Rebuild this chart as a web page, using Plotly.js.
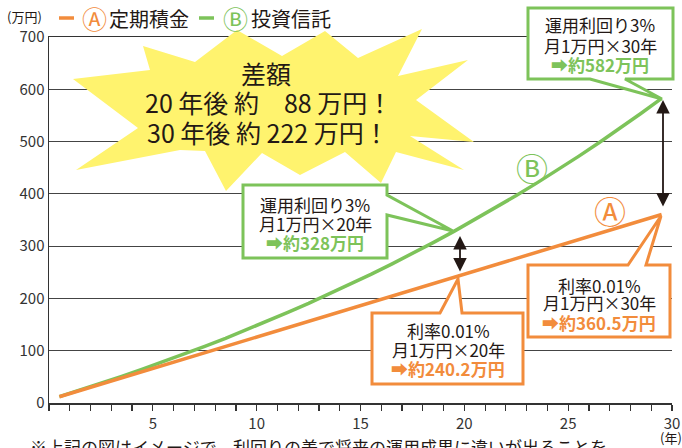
<!DOCTYPE html>
<html>
<head>
<meta charset="utf-8">
<script src="https://cdn.plot.ly/plotly-3.0.1.min.js"></script>
<style>html,body{margin:0;padding:0;background:#fff;}#chart{width:682px;height:448px;}</style>
</head>
<body>
<div id="chart"></div>
<script>
// ---- data ----
const years = [1,2,3,4,5,6,7,8,9,10,11,12,13,14,15,16,17,18,19,20,21,22,23,24,25,26,27,28,29,30];
// A: 定期積金 (利率0.01%, 月1万円)
const seriesA = [12.0,24.0,36.0,48.0,60.0,72.0,84.0,96.0,108.0,120.1,132.1,144.1,156.1,168.1,180.1,192.2,204.2,216.2,228.2,240.2,252.3,264.3,276.3,288.3,300.4,312.4,324.4,336.4,348.5,360.5];
// B: 投資信託 (運用利回り3%, 月1万円)
const seriesB = [12.2,24.7,37.6,50.9,64.6,78.8,93.3,108.4,123.8,139.7,156.2,173.1,190.5,208.5,227.0,246.0,265.7,285.9,306.8,328.3,350.5,373.3,396.8,421.0,446.0,471.7,498.3,525.6,553.7,582.7];
const xTickVals = [0,5,10,15,20,25,30];
const xTickText = ['', '5', '10', '15', '20', '25', '30'];
const yTickVals = [0,100,200,300,400,500,600,700];

const nameA = '定期積金';
const nameB = '投資信託';
const burstLines = ['差額', '20 年後 約　88 万円！', '30 年後 約 222 万円！'];
const calloutB30 = ['運用利回り3%', '月1万円×30年', '➡約582万円'];
const calloutB20 = ['運用利回り3%', '月1万円×20年', '➡約328万円'];
const calloutA20 = ['利率0.01%', '月1万円×20年', '➡約240.2万円'];
const calloutA30 = ['利率0.01%', '月1万円×30年', '➡約360.5万円'];
const footnote = '※上記の図はイメージで、利回りの差で将来の運用成果に違いが出ることを';

// ---- styling ----
const ORANGE = '#F28C3C';
const GREEN = '#7DC35A';
const YELLOW = '#FFF36E';
const TXT = '#231815';
const FONT = '"Noto Sans CJK JP", "Noto Sans", sans-serif';

const PL = 49, PR = 672, PT = 37, PB = 403;
function fx(px){ return (px - PL) / (PR - PL); }
function fy(py){ return (PB - py) / (PB - PT); }
function pathFrom(pts){ return 'M' + pts.map(p => fx(p[0]).toFixed(5) + ',' + fy(p[1]).toFixed(5)).join('L') + 'Z'; }

const annotations = [];
const shapes = [];
function txt(px, py, text, size, color, opts){
  opts = opts || {};
  annotations.push({
    xref:'paper', yref:'paper', x: fx(px), y: fy(py), text: text, showarrow:false,
    xanchor: opts.xanchor || 'center', yanchor: opts.yanchor || 'middle',
    font:{family: FONT, size: size, color: color}
  });
}

// starburst
const burst = [[143,46],[195,62],[237,30],[282,56],[325,31],[358,58],[422,29],[398,76],[468,60],[416,100],[474,142],[410,136],[464,170],[396,152],[381,183],[345,152],[300,175],[262,153],[226,191],[205,151],[180,150],[76,170],[138,128],[73,79],[150,70]];
shapes.push({type:'path', xref:'paper', yref:'paper', path: pathFrom(burst), fillcolor: YELLOW, line:{width:0}, layer:'above'});
txt(266, 73, burstLines[0], 25, TXT);
txt(268, 102, burstLines[1], 25, TXT);
txt(268, 132, burstLines[2], 25, TXT);

// callout boxes
function callout(pts, color, lines, cx, ys){
  shapes.push({type:'path', xref:'paper', yref:'paper', path: pathFrom(pts), fillcolor:'#ffffff', line:{color: color, width:3}, layer:'above'});
  txt(cx, ys[0], lines[0], 17, TXT);
  txt(cx, ys[1], lines[1], 17, TXT);
  txt(cx, ys[2], '<b>' + lines[2] + '</b>', 17, color);
}
callout([[528,8],[673,8],[673,79],[625,79],[662,99],[590,79],[528,79]], GREEN, calloutB30, 600, [25,45,65]);
callout([[243,185],[387,185],[387,195],[453,231],[387,215],[387,258],[243,258]], GREEN, calloutB20, 315, [205,223,242]);
callout([[372,313],[440,313],[458,279],[462,313],[523,313],[523,384],[372,384]], ORANGE, calloutA20, 448, [330,349,368]);
callout([[528,265],[628,265],[661,216],[646,265],[670,265],[670,337],[528,337]], ORANGE, calloutA30, 599, [285,303,322]);

// double arrows
function dblArrow(px, y1, y2){
  annotations.push({xref:'paper', yref:'paper', x: fx(px), y: fy(y1), ax: 0, ay: (y2 - y1), axref:'pixel', ayref:'pixel',
    text:'', showarrow:true, arrowside:'end+start', arrowhead:2, arrowsize:1.5, arrowwidth:1.8, arrowcolor:'#231815'});
}
dblArrow(460, 236, 273);
dblArrow(663, 100, 208);

// line labels
txt(532, 167, 'Ⓑ', 32, GREEN);
txt(610, 210, 'Ⓐ', 32, ORANGE);

// legend
shapes.push({type:'line', xref:'paper', yref:'paper', x0: fx(59), x1: fx(74), y0: fy(18), y1: fy(18), line:{color: ORANGE, width:3.5}});
txt(94, 18, 'Ⓐ', 25, ORANGE);
txt(107, 18, nameA, 20, TXT, {xanchor:'left'});
shapes.push({type:'line', xref:'paper', yref:'paper', x0: fx(199), x1: fx(214), y0: fy(18), y1: fy(18), line:{color: GREEN, width:3.5}});
txt(235, 18, 'Ⓑ', 25, GREEN);
txt(249, 18, nameB, 20, TXT, {xanchor:'left'});
txt(24, 16, '(万円)', 13, TXT);
txt(671, 437, '(年)', 13, TXT);
txt(28, 447, footnote, 17, TXT, {xanchor:'left'});

const traces = [
  {x: years.map(v => v - 0.5), y: seriesB, name: nameB, type:'scatter', mode:'lines', line:{color: GREEN, width:3.5}, hoverinfo:'skip'},
  {x: years.map(v => v - 0.5), y: seriesA, name: nameA, type:'scatter', mode:'lines', line:{color: ORANGE, width:3.5}, hoverinfo:'skip'}
];

const layout = {
  width: 682, height: 448,
  margin: {l: PL, r: 682 - PR, t: PT, b: 448 - PB, pad: 0},
  paper_bgcolor:'#ffffff', plot_bgcolor:'#ffffff',
  showlegend:false,
  font:{family: FONT, color: TXT},
  xaxis:{
    range:[0,30], tickmode:'array', tickvals: xTickVals, ticktext: xTickText,
    ticks:'outside', ticklen:6, tickwidth:1.2, tickcolor:'#333',
    minor:{tickmode:'linear', tick0:0, dtick:1, ticks:'outside', ticklen:6, tickwidth:1.2, tickcolor:'#333', showgrid:false},
    showline:true, linecolor:'#333', linewidth:1.5, mirror:true,
    showgrid:false, zeroline:false,
    tickfont:{family: FONT, size:15, color:'#333'}
  },
  yaxis:{
    range:[0,700], tickmode:'array', tickvals: yTickVals,
    ticks:'', showline:true, linecolor:'#333', linewidth:1.5,
    showgrid:true, gridcolor:'#444', gridwidth:1, zeroline:false,
    tickfont:{family: FONT, size:15, color:'#333'}
  },
  shapes: shapes,
  annotations: annotations
};

Plotly.newPlot('chart', traces, layout, {displayModeBar:false, staticPlot:true});
</script>
</body>
</html>
